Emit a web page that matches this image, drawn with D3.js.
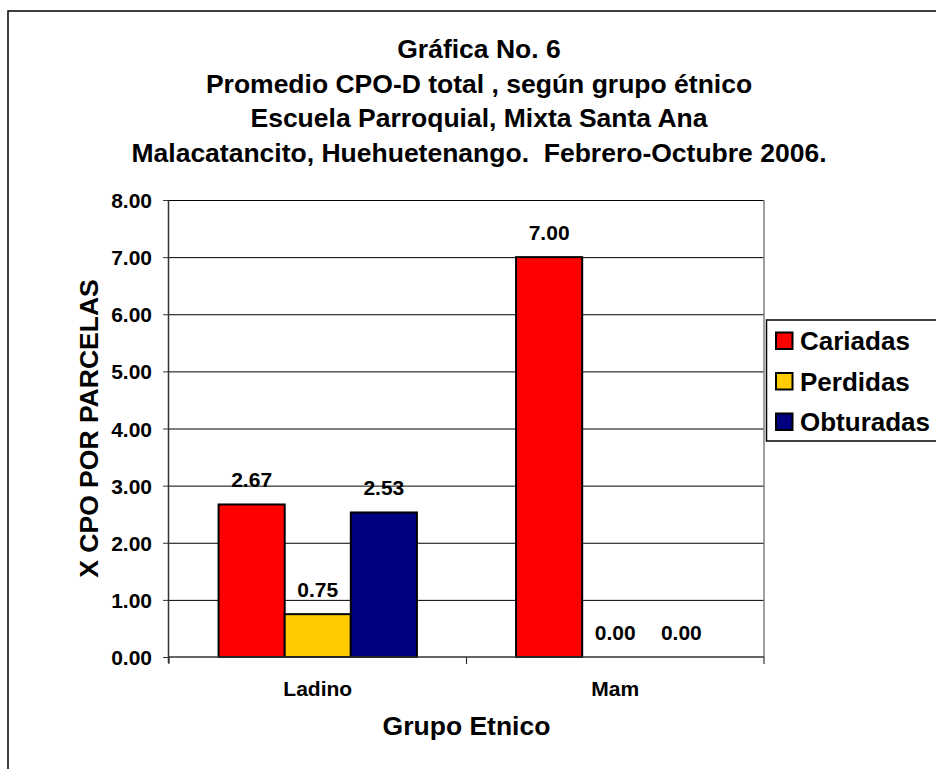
<!DOCTYPE html>
<html>
<head>
<meta charset="utf-8">
<script src="https://cdn.jsdelivr.net/npm/d3@7/dist/d3.min.js"></script>
<style>
  html, body { margin: 0; padding: 0; background: #fff; }
  svg { display: block; font-family: "Liberation Sans", Arial, sans-serif; font-weight: bold; }
  text { white-space: pre; }
</style>
</head>
<body>
<svg id="chart" width="936" height="769"></svg>
<script>
const titleLines = [
  "Gráfica No. 6",
  "Promedio CPO-D total , según grupo étnico",
  "Escuela Parroquial, Mixta Santa Ana",
  "Malacatancito, Huehuetenango.  Febrero-Octubre 2006."
];
const categories = ["Ladino", "Mam"];
const seriesNames = ["Cariadas", "Perdidas", "Obturadas"];
const seriesColors = ["#FF0000", "#FFCC00", "#000080"];
const cariadas = [2.67, 7.00];
const perdidas = [0.75, 0.00];
const obturadas = [2.53, 0.00];
const yTicks = [0, 1, 2, 3, 4, 5, 6, 7, 8];
const yTitle = "X CPO POR PARCELAS";
const xTitle = "Grupo Etnico";

const seriesValues = [cariadas, perdidas, obturadas];

const svg = d3.select("#chart");

// outer chart border
svg.append("rect")
  .attr("x", 8).attr("y", 11)
  .attr("width", 960).attr("height", 800)
  .attr("fill", "#fff").attr("stroke", "#000").attr("stroke-width", 1.5);

// title
svg.append("g").selectAll("text").data(titleLines).join("text")
  .attr("x", 479)
  .attr("y", (d, i) => 58 + i * 34.6)
  .attr("text-anchor", "middle")
  .attr("font-size", "26.5px")
  .attr("fill", "#000")
  .attr("xml:space", "preserve")
  .text(d => d);

const plotLeft = 169, plotRight = 764, plotTop = 200, plotBottom = 657;

const y = d3.scaleLinear().domain([0, 8]).range([plotBottom, plotTop]);
const x0 = d3.scaleBand().domain(categories).range([plotLeft, plotRight]).paddingInner(0).paddingOuter(0);
const x1 = d3.scaleBand().domain(seriesNames).range([0, x0.bandwidth()]).paddingInner(0).paddingOuter(0.75);

// gridlines
svg.append("g").selectAll("line").data(yTicks.filter(t => t > 0)).join("line")
  .attr("x1", plotLeft).attr("x2", plotRight)
  .attr("y1", d => y(d) + 0.5).attr("y2", d => y(d) + 0.5)
  .attr("stroke", "#000").attr("stroke-width", 1);

// plot area right border
svg.append("line")
  .attr("x1", plotRight).attr("x2", plotRight)
  .attr("y1", plotTop).attr("y2", plotBottom)
  .attr("stroke", "#808080").attr("stroke-width", 1.5);

// bars
const barData = [];
categories.forEach((c, ci) => {
  seriesNames.forEach((s, si) => {
    barData.push({ cat: c, series: s, value: seriesValues[si][ci], color: seriesColors[si] });
  });
});

const bars = svg.append("g");
bars.selectAll("rect").data(barData.filter(d => d.value > 0)).join("rect")
  .attr("x", d => x0(d.cat) + x1(d.series))
  .attr("y", d => y(d.value))
  .attr("width", x1.bandwidth())
  .attr("height", d => y(0) - y(d.value))
  .attr("fill", d => d.color)
  .attr("stroke", "#000").attr("stroke-width", 2);

// value labels
svg.append("g").selectAll("text").data(barData).join("text")
  .attr("x", d => x0(d.cat) + x1(d.series) + x1.bandwidth() / 2)
  .attr("y", d => y(d.value) - 17.5)
  .attr("text-anchor", "middle")
  .attr("font-size", "21px")
  .attr("fill", "#000")
  .text(d => d.value.toFixed(2));

// y axis
const yAxis = d3.axisLeft(y).tickValues(yTicks).tickFormat(d3.format(".2f")).tickSize(6).tickPadding(11);
const gy = svg.append("g").attr("transform", `translate(${plotLeft},0)`).call(yAxis);
gy.select(".domain").attr("stroke", "#333").attr("stroke-width", 1.5).attr("d", `M-0.5,${plotBottom + 6}V${plotTop}`);
gy.selectAll(".tick line").attr("stroke", "#333").attr("stroke-width", 1);
gy.selectAll(".tick text")
  .attr("font-size", "21px").attr("font-weight", "bold")
  .attr("font-family", "'Liberation Sans', Arial, sans-serif")
  .attr("fill", "#000").attr("dy", "0.36em");

// x axis
const tickPositions = [plotLeft, x0(categories[1]), plotRight];
svg.append("line")
  .attr("x1", plotLeft).attr("x2", plotRight)
  .attr("y1", plotBottom).attr("y2", plotBottom)
  .attr("stroke", "#333").attr("stroke-width", 1.5);
svg.append("g").selectAll("line").data(tickPositions).join("line")
  .attr("x1", d => d).attr("x2", d => d)
  .attr("y1", plotBottom).attr("y2", plotBottom + 7)
  .attr("stroke", "#333").attr("stroke-width", 1.2);
svg.append("g").selectAll("text").data(categories).join("text")
  .attr("x", d => x0(d) + x0.bandwidth() / 2)
  .attr("y", 696)
  .attr("text-anchor", "middle")
  .attr("font-size", "21px")
  .attr("fill", "#000")
  .text(d => d);

// axis titles
svg.append("text")
  .attr("x", (plotLeft + plotRight) / 2)
  .attr("y", 735)
  .attr("text-anchor", "middle")
  .attr("font-size", "26.5px")
  .attr("fill", "#000")
  .text(xTitle);

svg.append("text")
  .attr("transform", `translate(98,${(plotTop + plotBottom) / 2}) rotate(-90)`)
  .attr("text-anchor", "middle")
  .attr("font-size", "26.5px")
  .attr("fill", "#000")
  .text(yTitle);

// legend
const legend = svg.append("g");
legend.append("rect")
  .attr("x", 766.5).attr("y", 320)
  .attr("width", 200).attr("height", 121)
  .attr("fill", "#fff").attr("stroke", "#000").attr("stroke-width", 1.5);
const items = legend.selectAll("g.item").data(seriesNames).join("g")
  .attr("class", "item")
  .attr("transform", (d, i) => `translate(0,${i * 40.5})`);
items.append("rect")
  .attr("x", 776).attr("y", 332.5)
  .attr("width", 16.5).attr("height", 16.5)
  .attr("fill", (d, i) => seriesColors[i])
  .attr("stroke", "#000").attr("stroke-width", 2);
items.append("text")
  .attr("x", 800)
  .attr("y", 350)
  .attr("font-size", "26px")
  .attr("fill", "#000")
  .text(d => d);
</script>
</body>
</html>
